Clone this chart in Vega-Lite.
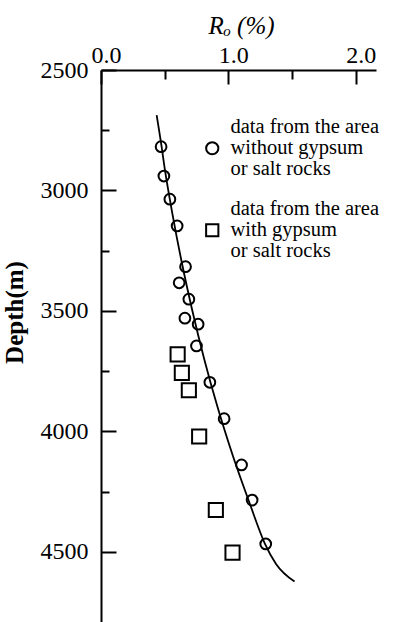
{
  "$schema": "https://vega.github.io/schema/vega-lite/v6.json",
  "autosize": "none",
  "width": 275,
  "height": 560,
  "padding": {"left": 101, "top": 70, "right": 24, "bottom": 0},
  "background": "white",
  "config": {
    "view": {"stroke": null},
    "font": "Liberation Serif",
    "style": {"guide-label": {"dy": -21, "lineHeight": 21}},
    "axis": {
      "domainColor": "black", "domainWidth": 2, "tickColor": "black", "tickWidth": 2,
      "labelColor": "black", "titleColor": "black", "grid": false,
      "labelFont": "Liberation Serif", "titleFont": "Liberation Serif"
    }
  },
  "datasets": {
    "curve": [
      {"ro": 0.437, "depth": 2687}, {"ro": 0.476, "depth": 2818}, {"ro": 0.498, "depth": 2900},
      {"ro": 0.562, "depth": 3100}, {"ro": 0.635, "depth": 3300}, {"ro": 0.718, "depth": 3500},
      {"ro": 0.811, "depth": 3700}, {"ro": 0.916, "depth": 3900}, {"ro": 1.035, "depth": 4100},
      {"ro": 1.169, "depth": 4300}, {"ro": 1.286, "depth": 4464}, {"ro": 1.375, "depth": 4550},
      {"ro": 1.52, "depth": 4623}
    ],
    "pts": [
      {"group": "without", "ro": 0.472, "depth": 2818},
      {"group": "without", "ro": 0.494, "depth": 2940},
      {"group": "without", "ro": 0.541, "depth": 3036},
      {"group": "without", "ro": 0.598, "depth": 3147},
      {"group": "without", "ro": 0.664, "depth": 3316},
      {"group": "without", "ro": 0.614, "depth": 3383},
      {"group": "without", "ro": 0.69, "depth": 3451},
      {"group": "without", "ro": 0.659, "depth": 3530},
      {"group": "without", "ro": 0.763, "depth": 3555},
      {"group": "without", "ro": 0.75, "depth": 3645},
      {"group": "without", "ro": 0.855, "depth": 3796},
      {"group": "without", "ro": 0.967, "depth": 3947},
      {"group": "without", "ro": 1.104, "depth": 4139},
      {"group": "without", "ro": 1.187, "depth": 4285},
      {"group": "without", "ro": 1.294, "depth": 4467},
      {"group": "with", "ro": 0.602, "depth": 3680},
      {"group": "with", "ro": 0.635, "depth": 3757},
      {"group": "with", "ro": 0.69, "depth": 3829},
      {"group": "with", "ro": 0.771, "depth": 4021},
      {"group": "with", "ro": 0.902, "depth": 4326},
      {"group": "with", "ro": 1.033, "depth": 4503}
    ]
  },
  "encoding": {
    "x": {
      "field": "ro", "type": "quantitative",
      "scale": {"domain": [0, 2.16], "nice": false, "zero": false},
      "axis": {
        "orient": "top", "values": [0, 0.5, 1, 1.5, 2],
        "labelExpr": "datum.value % 1 === 0 ? format(datum.value, '.1f') : ''",
        "tickSize": {"condition": {"test": "datum.value % 1 === 0", "value": -14}, "value": -9},
        "labelPadding": -4, "labelFontSize": 24, "labelFlush": false, "labelOffset": 5,
        "title": "Rₒ (%)", "titleFontSize": 25, "titleFontStyle": "italic", "titleFontWeight": "normal",
        "titlePadding": 6, "titleX": 140, "titleY": -32
      }
    },
    "y": {
      "field": "depth", "type": "quantitative",
      "scale": {"domain": [2500, 4824], "reverse": true, "nice": false, "zero": false},
      "axis": {
        "orient": "left", "values": [2500, 2750, 3000, 3250, 3500, 3750, 4000, 4250, 4500],
        "labelExpr": "datum.value % 500 === 0 ? format(datum.value, 'd') : ''",
        "tickSize": {"condition": {"test": "datum.value % 500 === 0", "value": -15}, "value": -8},
        "labelPadding": 28, "labelFontSize": 24, "labelFlush": false, "labelOffset": 21,
        "title": "Depth(m)", "titleFontSize": 25, "titleFontWeight": "bold",
        "titleX": -74, "titleY": 242
      }
    }
  },
  "layer": [
    {
      "data": {"name": "curve"},
      "mark": {"type": "line", "color": "black", "strokeWidth": 1.8, "interpolate": "monotone"}
    },
    {
      "data": {"name": "pts"},
      "transform": [{"filter": "datum.group === 'without'"}],
      "mark": {"type": "point", "filled": false, "color": "black", "strokeWidth": 2, "opacity": 1, "size": 115},
      "encoding": {
        "shape": {
          "field": "group", "type": "nominal",
          "scale": {"domain": ["without", "with"], "range": ["circle", "square"]},
          "legend": {
            "orient": "none", "legendX": 101, "legendY": 68, "title": null, "padding": 0,
            "labelExpr": "datum.label === 'without' ? ['data from the area', 'without gypsum', 'or salt rocks'] : ['data from the area', 'with gypsum', 'or salt rocks']",
            "labelFont": "Liberation Serif", "labelFontSize": 20.5, "labelColor": "black", "labelLimit": 0,
            "labelOffset": 8, "rowPadding": 19, "symbolSize": 150, "symbolStrokeWidth": 2,
            "symbolStrokeColor": "black", "symbolFillColor": "white"
          }
        }
      }
    },
    {
      "data": {"name": "pts"},
      "transform": [{"filter": "datum.group === 'with'"}],
      "mark": {"type": "point", "filled": false, "color": "black", "strokeWidth": 2, "opacity": 1, "size": 200},
      "encoding": {
        "shape": {"field": "group", "type": "nominal"}
      }
    }
  ]
}
